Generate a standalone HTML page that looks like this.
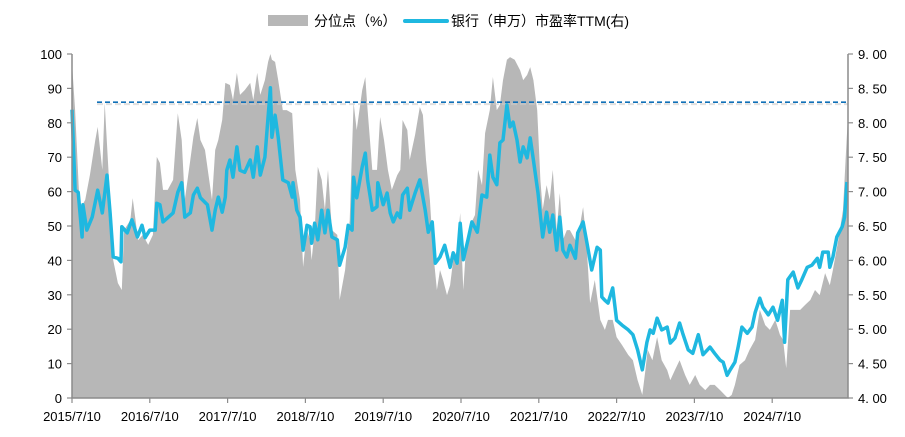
<!DOCTYPE html>
<html><head><meta charset="utf-8">
<style>
html,body{margin:0;padding:0;background:#fff;}
body{width:905px;height:432px;overflow:hidden;font-family:"Liberation Sans","Noto Sans CJK SC",sans-serif;}
svg text{font-family:"Liberation Sans","Noto Sans CJK SC",sans-serif;}
</style></head>
<body>
<svg id="chart" width="905" height="432" viewBox="0 0 905 432">
  <g>
    <rect x="268" y="15" width="40" height="11" fill="#b7b7b7"/>
    <text x="314" y="26" font-size="14" fill="#000">分位点（%）</text>
    <line x1="405" y1="21" x2="447" y2="21" stroke="#1fb8e0" stroke-width="4" stroke-linecap="round"/>
    <text x="451" y="26" font-size="14" fill="#000">银行（申万）市盈率TTM(右)</text>
  </g>
  <g id="plot"></g>
</svg>
<script>
const pctYears=[2015.52,2015.56,2015.62,2015.69,2015.75,2015.82,2015.85,2015.91,2015.94,2016.01,2016.05,2016.11,2016.16,2016.19,2016.27,2016.30,2016.37,2016.43,2016.50,2016.56,2016.61,2016.65,2016.69,2016.75,2016.82,2016.88,2016.93,2016.97,2017.04,2017.08,2017.13,2017.17,2017.23,2017.32,2017.36,2017.40,2017.45,2017.49,2017.55,2017.59,2017.64,2017.68,2017.74,2017.81,2017.85,2017.90,2017.94,2018.00,2018.04,2018.07,2018.09,2018.13,2018.17,2018.23,2018.28,2018.35,2018.39,2018.43,2018.45,2018.49,2018.54,2018.58,2018.60,2018.64,2018.68,2018.73,2018.77,2018.81,2018.86,2018.93,2018.96,2019.03,2019.09,2019.14,2019.18,2019.25,2019.29,2019.32,2019.38,2019.44,2019.48,2019.53,2019.58,2019.63,2019.70,2019.74,2019.77,2019.83,2019.86,2019.93,2019.99,2020.03,2020.07,2020.12,2020.16,2020.21,2020.25,2020.29,2020.34,2020.38,2020.42,2020.47,2020.51,2020.55,2020.59,2020.64,2020.70,2020.74,2020.79,2020.83,2020.89,2020.93,2020.98,2021.02,2021.06,2021.11,2021.15,2021.21,2021.28,2021.32,2021.37,2021.41,2021.45,2021.50,2021.54,2021.57,2021.62,2021.66,2021.70,2021.75,2021.79,2021.83,2021.88,2021.92,2021.99,2022.05,2022.09,2022.13,2022.18,2022.24,2022.31,2022.37,2022.41,2022.47,2022.52,2022.59,2022.67,2022.73,2022.79,2022.85,2022.89,2022.92,2022.98,2023.04,2023.10,2023.17,2023.21,2023.27,2023.33,2023.40,2023.46,2023.53,2023.59,2023.66,2023.72,2023.78,2023.85,2023.91,2023.95,2024.00,2024.04,2024.10,2024.17,2024.23,2024.30,2024.36,2024.43,2024.49,2024.56,2024.62,2024.66,2024.70,2024.75,2024.81,2024.88,2024.94,2025.01,2025.07,2025.13,2025.20,2025.26,2025.30,2025.37,2025.43,2025.47,2025.49];
const pctVals=[97.4,83.7,54.7,57.6,64.8,75.0,78.8,66.3,85.8,57.6,40.1,33.4,31.4,48.8,51.7,58.1,45.9,47.4,44.5,47.4,70.1,68.3,60.5,60.5,63.4,82.8,75.0,57.6,69.2,75.9,81.4,75.0,72.1,57.6,72.1,75.0,80.8,91.6,91.0,86.6,94.5,88.1,89.5,91.6,86.6,94.5,88.1,92.4,97.7,100,98.3,97.7,92.4,83.7,83.7,82.8,66.3,60.5,57.6,38.1,48.8,45.9,40.1,48.8,67.2,63.4,54.7,66.3,48.8,47.4,28.5,37.2,51.7,85.8,77.9,89.5,93.3,83.7,66.3,66.3,81.7,75.0,66.3,60.5,64.8,66.3,80.8,77.9,69.2,76.5,84.6,82.3,69.2,57.6,43.0,31.4,37.2,34.3,29.9,32.8,40.1,43.0,53.8,31.4,45.9,50.3,53.2,66.3,61.9,77.0,83.7,93.3,83.7,85.2,92.4,98.3,99.1,98.3,95.3,92.4,93.9,96.2,92.4,83.7,63.4,54.7,61.9,57.6,66.3,48.8,59.6,45.9,48.8,48.8,45.9,50.3,55.5,45.9,27.6,34.3,22.7,19.8,22.7,22.7,17.7,15.4,12.5,11.0,5.2,0.9,8.1,14.0,11.0,17.7,11.0,8.1,5.2,8.1,11.0,6.7,3.8,6.7,3.8,2.3,3.8,3.8,2.3,0.9,0,0.9,3.8,9.6,11.0,14.0,16.9,25.6,21.2,19.8,22.7,18.3,16.9,8.7,25.6,25.6,25.6,27.0,28.5,31.4,29.9,36.3,32.8,37.2,45.9,54.7,72.1,80.8];
const peYears=[2015.52,2015.56,2015.60,2015.65,2015.66,2015.71,2015.78,2015.85,2015.91,2015.97,2016.01,2016.05,2016.11,2016.15,2016.16,2016.23,2016.29,2016.36,2016.42,2016.46,2016.52,2016.59,2016.61,2016.65,2016.69,2016.82,2016.88,2016.93,2016.97,2017.04,2017.08,2017.13,2017.17,2017.26,2017.32,2017.36,2017.40,2017.45,2017.49,2017.51,2017.55,2017.59,2017.64,2017.68,2017.74,2017.81,2017.85,2017.90,2017.94,2018.00,2018.07,2018.09,2018.13,2018.17,2018.23,2018.30,2018.35,2018.36,2018.41,2018.45,2018.49,2018.54,2018.58,2018.60,2018.64,2018.68,2018.73,2018.77,2018.81,2018.86,2018.93,2018.96,2019.03,2019.07,2019.12,2019.14,2019.18,2019.25,2019.29,2019.32,2019.38,2019.44,2019.45,2019.52,2019.57,2019.61,2019.65,2019.70,2019.74,2019.77,2019.83,2019.86,2019.93,2019.99,2020.06,2020.10,2020.15,2020.19,2020.25,2020.31,2020.38,2020.42,2020.47,2020.51,2020.55,2020.61,2020.66,2020.73,2020.79,2020.85,2020.89,2020.93,2020.98,2021.02,2021.06,2021.11,2021.15,2021.19,2021.24,2021.28,2021.32,2021.37,2021.41,2021.45,2021.51,2021.57,2021.62,2021.66,2021.70,2021.75,2021.79,2021.83,2021.88,2021.92,2021.99,2022.02,2022.09,2022.14,2022.20,2022.27,2022.31,2022.33,2022.37,2022.41,2022.47,2022.52,2022.59,2022.67,2022.73,2022.79,2022.85,2022.91,2022.95,2022.99,2023.04,2023.10,2023.17,2023.21,2023.27,2023.33,2023.37,2023.44,2023.50,2023.57,2023.63,2023.72,2023.78,2023.85,2023.89,2023.94,2023.98,2024.04,2024.08,2024.13,2024.20,2024.26,2024.30,2024.36,2024.40,2024.47,2024.53,2024.59,2024.65,2024.68,2024.72,2024.79,2024.85,2024.90,2024.97,2025.03,2025.10,2025.13,2025.17,2025.24,2025.26,2025.30,2025.35,2025.42,2025.45,2025.48];
const peVals=[8.19,7.02,6.99,6.34,6.81,6.44,6.63,7.02,6.69,7.24,6.69,6.05,6.03,5.98,6.49,6.40,6.59,6.34,6.51,6.33,6.44,6.44,6.83,6.81,6.56,6.69,6.99,7.13,6.63,6.69,6.95,7.05,6.91,6.81,6.44,6.73,6.92,6.70,6.92,7.31,7.46,7.21,7.65,7.31,7.28,7.46,7.21,7.65,7.24,7.50,8.51,7.79,8.11,7.79,7.17,7.13,6.92,7.13,6.73,6.63,6.15,6.51,6.49,6.25,6.54,6.30,6.73,6.40,6.73,6.34,6.30,5.93,6.19,6.51,6.44,7.21,6.91,7.36,7.56,7.17,6.73,6.78,7.13,6.81,6.98,6.69,6.56,6.69,6.62,6.95,7.05,6.73,6.98,7.17,6.73,6.41,6.56,5.96,6.05,6.22,5.90,6.11,5.96,6.54,6.01,6.30,6.56,6.41,6.95,6.92,7.53,7.21,7.10,7.71,7.75,8.26,7.94,8.01,7.75,7.43,7.65,7.49,7.78,7.46,6.98,6.34,6.70,6.41,6.66,6.15,6.63,6.15,6.05,6.22,6.03,6.40,6.56,6.25,5.86,6.19,6.15,5.47,5.42,5.38,5.60,5.13,5.06,4.99,4.92,4.70,4.41,4.81,4.99,4.94,5.16,4.99,5.03,4.80,4.87,5.09,4.94,4.70,4.65,4.92,4.63,4.74,4.65,4.55,4.52,4.33,4.41,4.52,4.73,5.03,4.94,5.03,5.24,5.45,5.32,5.21,5.32,5.13,5.42,4.81,5.72,5.83,5.60,5.72,5.90,5.93,6.03,5.90,6.12,6.12,5.90,6.05,6.34,6.49,6.63,7.14];
const xTickLabels=["2015/7/10","2016/7/10","2017/7/10","2018/7/10","2019/7/10","2020/7/10","2021/7/10","2022/7/10","2023/7/10","2024/7/10"];
const leftTicks=[0,10,20,30,40,50,60,70,80,90,100];
const rightTicks=[4,4.5,5,5.5,6,6.5,7,7.5,8,8.5,9];
const refPE=8.30;

const X0=72,X1=848,Y0=398,Y1=54,START=2015.52,PXY=77.8;
const xs=t=>X0+(t-START)*PXY;
const yl=v=>Y0-(v-0)/(100-0)*(Y0-Y1);
const yr=v=>Y0-(v-4)/(9-4)*(Y0-Y1);
const NS="http://www.w3.org/2000/svg";
const plot=document.getElementById('plot');
function mk(tag,attrs){const e=document.createElementNS(NS,tag);for(const k in attrs)e.setAttribute(k,attrs[k]);plot.appendChild(e);return e;}

// area
let d="M"+xs(pctYears[0]).toFixed(1)+","+Y0;
for(let i=0;i<pctYears.length;i++)d+=" L"+xs(pctYears[i]).toFixed(1)+","+yl(pctVals[i]).toFixed(1);
d+=" L"+xs(pctYears[pctYears.length-1]).toFixed(1)+","+Y0+" Z";
const area=mk('path',{d:d,fill:'#b7b7b7'});



// reference line
const shadow=mk('line',{x1:97,y1:yr(refPE)+2,x2:X1,y2:yr(refPE)+2,stroke:'#ccc','stroke-width':2,'stroke-dasharray':'6 3',opacity:0.6});


const ref=mk('line',{x1:97,y1:yr(refPE),x2:X1,y2:yr(refPE),stroke:'#1070b8','stroke-width':1.6,'stroke-dasharray':'5 3'});



// pe line
let p="";
for(let i=0;i<peYears.length;i++)p+=(i?" L":"M")+xs(peYears[i]).toFixed(1)+","+yr(peVals[i]).toFixed(1);
const line=mk('path',{d:p,fill:'none',stroke:'#1fb8e0','stroke-width':3.5,'stroke-linejoin':'round'});



// axes
const ax=mk('path',{d:`M${X0},${Y1} L${X0},${Y0} L${X1},${Y0} L${X1},${Y1}`,fill:'none',stroke:'#8c8c8c','stroke-width':1.5});



leftTicks.forEach(v=>{
  const y=yl(v);
  const tk=mk('line',{x1:X0-5,y1:y,x2:X0,y2:y,stroke:'#8c8c8c','stroke-width':1.2});
  
  
  const t=mk('text',{x:X0-10,y:y+5,'font-size':13,'text-anchor':'end',fill:'#000'});
  t.textContent=String(v);
  
  
});
rightTicks.forEach(v=>{
  const y=yr(v);
  const tk=mk('line',{x1:X1,y1:y,x2:X1+5,y2:y,stroke:'#8c8c8c','stroke-width':1.2});
  
  
  const t=mk('text',{x:X1+10,y:y+5,'font-size':13,'text-anchor':'start',fill:'#000'});
  t.textContent=v.toFixed(2).replace('.', '. ');
  
  
});
xTickLabels.forEach((lab,i)=>{
  const x=xs(START+i);
  const tk=mk('line',{x1:x,y1:Y0,x2:x,y2:Y0+5,stroke:'#8c8c8c','stroke-width':1.2});
  
  
  const t=mk('text',{x:x,y:421,'font-size':13,'text-anchor':'middle',fill:'#000'});
  t.textContent=lab;
  
  
});
</script>
</body></html>
